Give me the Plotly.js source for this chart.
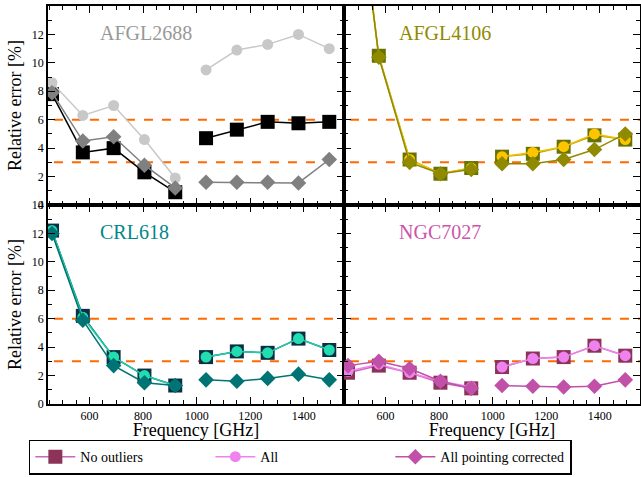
<!DOCTYPE html>
<html>
<head>
<meta charset="utf-8">
<script src="https://cdn.plot.ly/plotly-3.0.1.min.js"></script>
<style>body{margin:0;background:#fff}</style>
</head>
<body>
<div id="chart" style="width:641px;height:477px"></div>
<script>
// frequencies (null splits the two receiver groups)
var freq = [460, 575, 690, 805, 920, null, 1035, 1150, 1265, 1380, 1495];

var afgl2688NoOut = [7.8, 3.7, 4.0, 2.3, 0.9, null, 4.7, 5.3, 5.85, 5.75, 5.85];
var afgl2688All   = [8.6, 6.3, 7.0, 4.6, 1.9, null, 9.5, 10.9, 11.3, 12.0, 11.0];
var afgl2688Pc    = [7.9, 4.5, 4.8, 2.8, 1.2, null, 1.6, 1.6, 1.6, 1.55, 3.2];

var afgl4106NoOut = [28, 10.5, 3.2, 2.2, 2.6, null, 3.4, 3.6, 4.1, 4.9, 4.6];
var afgl4106All   = [28, 10.4, 3.2, 2.2, 2.6, null, 3.4, 3.7, 4.1, 5.0, 4.6];
var afgl4106Pc    = [28, 10.4, 3.0, 2.2, 2.5, null, 2.9, 2.9, 3.2, 3.9, 5.0];

var crl618NoOut = [12.2, 6.2, 3.3, 2.0, 1.3, null, 3.3, 3.7, 3.6, 4.6, 3.8];
var crl618All   = [12.2, 6.1, 3.3, 2.0, 1.3, null, 3.3, 3.7, 3.6, 4.6, 3.8];
var crl618Pc    = [12.0, 5.9, 2.7, 1.5, 1.3, null, 1.7, 1.6, 1.8, 2.1, 1.7];

var ngc7027NoOut = [2.2, 2.7, 2.2, 1.5, 1.1, null, 2.6, 3.2, 3.3, 4.1, 3.4];
var ngc7027All   = [2.3, 2.8, 2.2, 1.6, 1.2, null, 2.6, 3.2, 3.3, 4.1, 3.4];
var ngc7027Pc    = [2.7, 3.0, 2.5, 1.6, 1.1, null, 1.3, 1.25, 1.2, 1.25, 1.7];

var limits = [3, 6];
var serif = "Times New Roman";

var panels = [
    {name: "AFGL2688", xa: "x", ya: "y", data: [afgl2688NoOut, afgl2688All, afgl2688Pc],
     col: ["#000000", "#c8c8c8", "#808080"], line: ["#000000", "#c8c8c8", "#808080"], label: "#999999"},
    {name: "AFGL4106", xa: "x2", ya: "y2", data: [afgl4106NoOut, afgl4106All, afgl4106Pc],
     col: ["#667300", "#ffc400", "#8f8a00"], line: ["#b8a400", "#f0c000", "#8f8a00"], label: "#8f8a00"},
    {name: "CRL618", xa: "x3", ya: "y3", data: [crl618NoOut, crl618All, crl618Pc],
     col: ["#0b2f45", "#22ddb0", "#007474"], line: ["#0b6f6f", "#22ccaa", "#007474"], label: "#008888"},
    {name: "NGC7027", xa: "x4", ya: "y4", data: [ngc7027NoOut, ngc7027All, ngc7027Pc],
     col: ["#8b3358", "#ee82ee", "#c050a8"], line: ["#cc66bb", "#ee82ee", "#c050a8"], label: "#cc55aa"}
];

var names = ["No outliers", "All", "All pointing corrected"];
var symbols = ["square", "circle", "diamond"];
var sizes = [14, 11, 12];
var traces = [];

panels.forEach(function (p, pi) {
    limits.forEach(function (l) {
        traces.push({x: [400, 1600], y: [l, l], xaxis: p.xa, yaxis: p.ya, mode: "lines",
            line: {color: "#ff6a00", dash: "dash", width: 2}, showlegend: false, hoverinfo: "skip"});
    });
    p.data.forEach(function (vals, k) {
        traces.push({
            x: freq, y: vals, xaxis: p.xa, yaxis: p.ya, mode: "lines+markers",
            name: names[k], showlegend: pi === 3,
            line: {color: p.line[k], width: 1.5},
            marker: {symbol: symbols[k], size: sizes[k], color: p.col[k],
                     line: {width: 0}}
        });
    });
});

function xax(dom, anchor, labels) {
    return {domain: dom, anchor: anchor, range: [445, 1550], tickvals: [600, 800, 1000, 1200, 1400],
        showticklabels: labels, ticks: "inside", ticklen: 7, tickcolor: "#000", mirror: "allticks",
        showline: true, linecolor: "#000", linewidth: 1.5, showgrid: false, zeroline: false,
        minor: {dtick: 50, ticks: "inside", ticklen: 4, tickcolor: "#000"},
        tickfont: {family: serif, size: 12, color: "#000"},
        title: labels ? {text: "Frequency [GHz]", font: {family: serif, size: 18, color: "#000"}, standoff: 10} : undefined};
}
function yax(dom, anchor, labels) {
    return {domain: dom, anchor: anchor, range: [0, 14], dtick: 2,
        showticklabels: labels, ticks: "inside", ticklen: 7, tickcolor: "#000", mirror: "allticks",
        showline: true, linecolor: "#000", linewidth: 1.5, showgrid: false, zeroline: false,
        minor: {dtick: 1, ticks: "inside", ticklen: 4, tickcolor: "#000"},
        tickfont: {family: serif, size: 12, color: "#000"},
        title: labels ? {text: "Relative error [%]", font: {family: serif, size: 18, color: "#000"}, standoff: 6} : undefined};
}

var ann = panels.map(function (p, i) {
    return {text: p.name, xref: p.xa + " domain", yref: p.ya + " domain", x: i % 2 ? 0.18 : 0.17, y: 0.93,
        xanchor: "left", yanchor: "top", showarrow: false,
        font: {family: serif, size: 20, color: p.label}};
});

var layout = {
    width: 641, height: 477,
    margin: {l: 48, r: 1, t: 6, b: 73},
    paper_bgcolor: "#fff", plot_bgcolor: "#fff",
    font: {family: serif},
    xaxis: xax([0, 0.5], "y", false),
    xaxis2: xax([0.5, 1], "y2", false),
    xaxis3: xax([0, 0.5], "y3", true),
    xaxis4: xax([0.5, 1], "y4", true),
    yaxis: yax([0.5, 1], "x", true),
    yaxis2: yax([0.5, 1], "x2", false),
    yaxis3: yax([0, 0.5], "x3", true),
    yaxis4: yax([0, 0.5], "x4", false),
    annotations: ann,
    showlegend: true,
    legend: {orientation: "h", xref: "container", yref: "container", x: 0.045, xanchor: "left",
        y: 0.005, yanchor: "bottom",
        bordercolor: "#000", borderwidth: 1.5, entrywidth: 125, itemwidth: 40, tracegroupgap: 0,
        font: {family: serif, size: 14, color: "#000"}}
};

Plotly.newPlot("chart", traces, layout, {displayModeBar: false});
</script>
</body>
</html>
